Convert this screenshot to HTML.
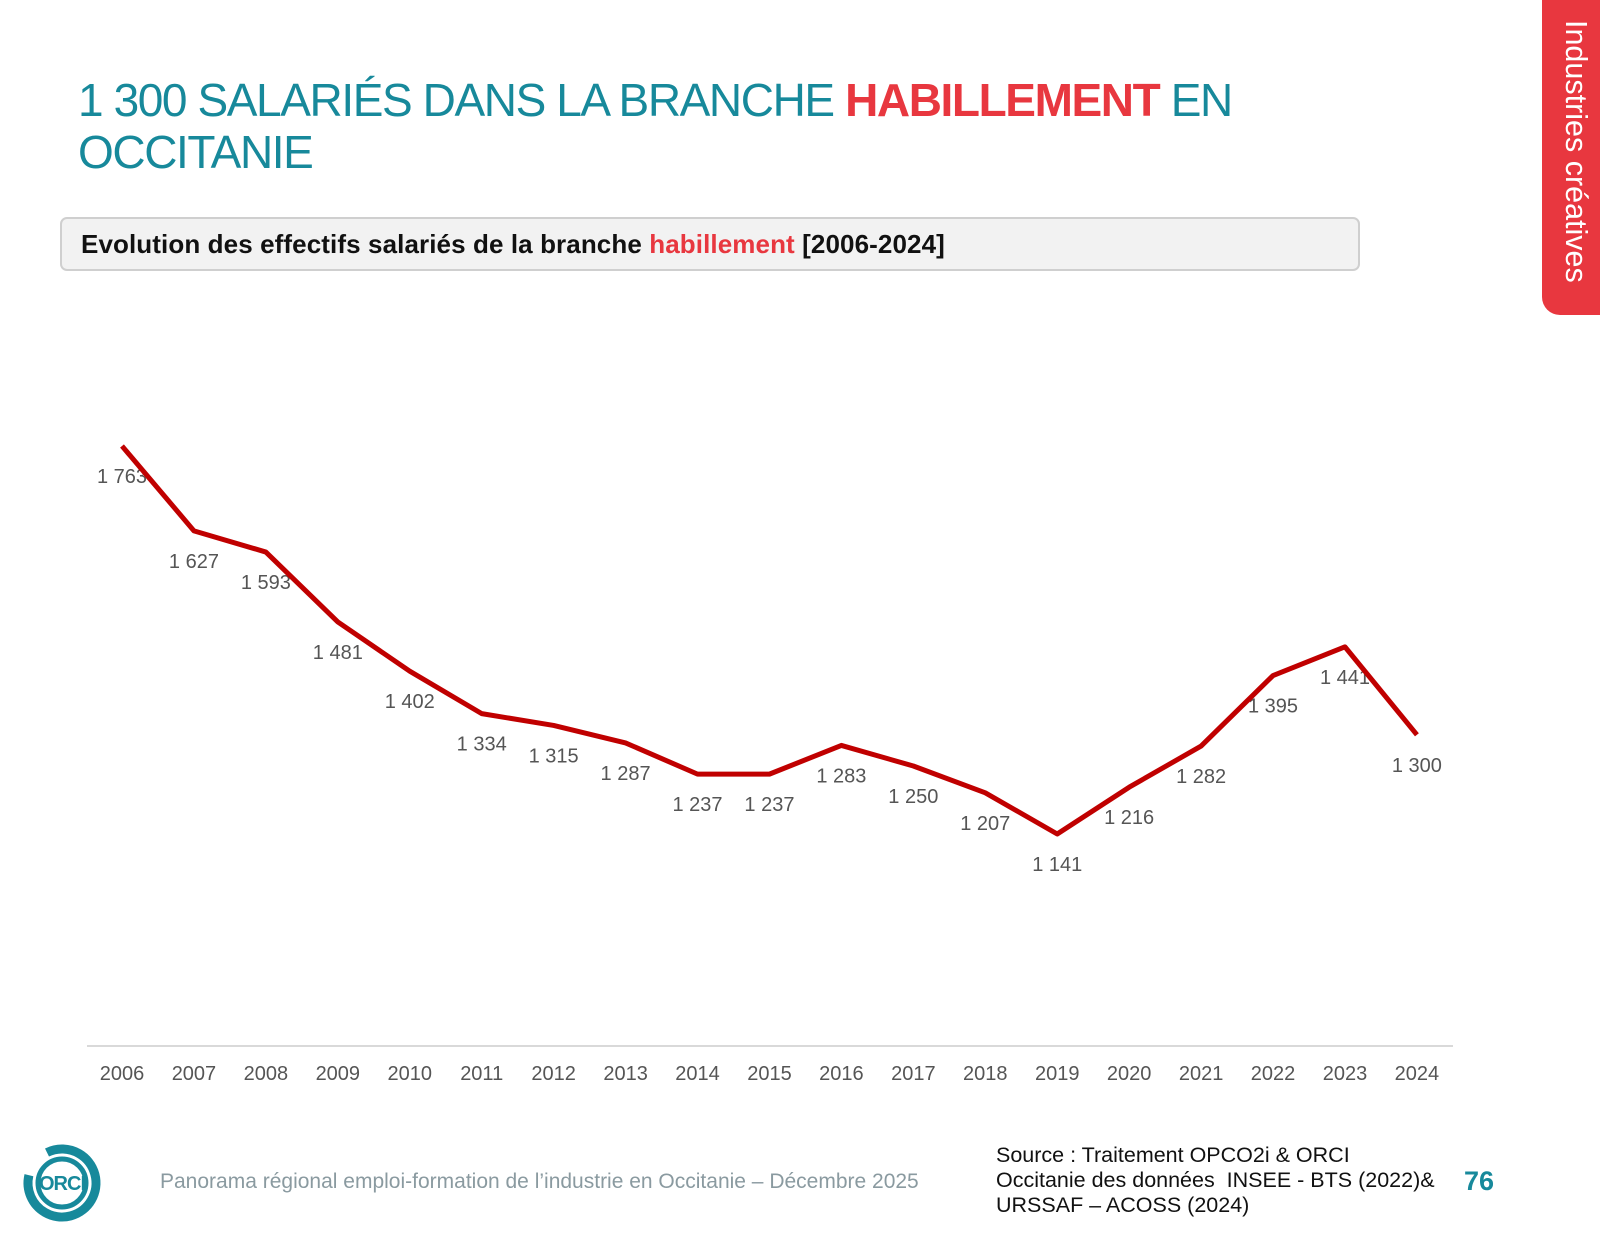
<!DOCTYPE html>
<html><head><meta charset="utf-8"><style>
body{margin:0;width:1600px;height:1259px;background:#fff;position:relative;overflow:hidden;font-family:"Liberation Sans",sans-serif}
.t{position:absolute;left:78px;top:74px;font-size:46px;line-height:52px;color:#17899b;letter-spacing:-1.4px}
.t b{color:#e8373f}
.box{position:absolute;left:60px;top:217px;width:1300px;height:54px;background:#f2f2f2;border:2px solid #cfcfcf;border-radius:7px;box-sizing:border-box}
.box span{position:absolute;left:19px;top:10px;font-size:26px;font-weight:bold;color:#111;letter-spacing:0.1px}
.tab{position:absolute;left:1542px;top:-10px;width:70px;height:325px;background:#e8373f;border-radius:0 0 0 18px}
.tab div{position:absolute;left:51px;top:30px;transform-origin:0 0;transform:rotate(90deg);color:#fff;font-size:30.5px;white-space:nowrap}
.f{position:absolute;color:#8a9aa0;font-size:21px;left:160px;top:1170px}
.s{position:absolute;left:996px;top:1143px;font-size:21.5px;line-height:25px;color:#111}
.p{position:absolute;left:1464px;top:1166px;font-size:27px;font-weight:bold;color:#17899b}
</style></head><body>
<div class="t">1 300 SALARIÉS DANS LA BRANCHE <b>HABILLEMENT</b> EN<br>OCCITANIE</div>
<div class="box"><span>Evolution des effectifs salariés de la branche <span style="position:static;color:#e8373f">habillement</span> [2006-2024]</span></div>
<div class="tab"><div>Industries créatives</div></div>
<svg width="1600" height="1259" style="position:absolute;left:0;top:0">
<line x1="87" y1="1046" x2="1453" y2="1046" stroke="#d9d9d9" stroke-width="2"/>
<g id="g" font-family="Liberation Sans,sans-serif" font-size="20" fill="#555" text-anchor="middle"></g>
<polyline id="l" fill="none" stroke="#c00000" stroke-width="5" stroke-linejoin="round"/>
<g transform="translate(62,1183)">
<circle r="34" fill="none" stroke="#17899b" stroke-width="9" stroke-dasharray="150 30" transform="rotate(-60)"/>
<circle r="24" fill="none" stroke="#17899b" stroke-width="5"/>
<text x="0" y="7" text-anchor="middle" font-size="20" font-weight="bold" fill="#17899b" letter-spacing="-1">ORCI</text>
</g>
</svg>
<div class="f">Panorama régional emploi-formation de l’industrie en Occitanie – Décembre 2025</div>
<div class="s">Source : Traitement OPCO2i &amp; ORCI<br>Occitanie des données&nbsp; INSEE - BTS (2022)&amp;<br>URSSAF – ACOSS (2024)</div>
<div class="p">76</div>
<script>
var v=[1763,1627,1593,1481,1402,1334,1315,1287,1237,1237,1283,1250,1207,1141,1216,1282,1395,1441,1300];
var pts=[],g=document.getElementById('g'),h='';
v.forEach(function(d,i){var x=122+i*71.94,y=446+(1763-d)*0.6238;pts.push(x+','+y);
h+='<text x="'+x+'" y="'+(y+37)+'">'+String(d).replace(/^(\d)/,'$1 ')+'</text>';
h+='<text x="'+x+'" y="1080">'+(2006+i)+'</text>';});
g.innerHTML=h;document.getElementById('l').setAttribute('points',pts.join(' '));
</script>
</body></html>
